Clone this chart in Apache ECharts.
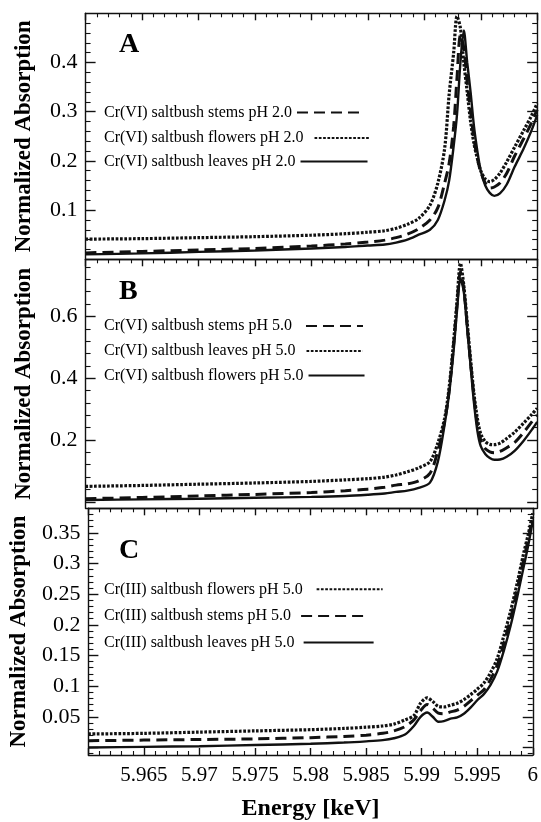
<!DOCTYPE html>
<html><head><meta charset="utf-8">
<script src="https://cdn.jsdelivr.net/npm/echarts@6/dist/echarts.min.js"></script>
<style>html,body{margin:0;padding:0;background:#fff}#c{width:541px;height:822px}</style>
</head><body><div id="c"></div>
<script>
// ---------- DATA ----------
const energyAB = [5.96, 5.965, 5.97, 5.975, 5.98, 5.983, 5.985, 5.9865, 5.9875, 5.9885, 5.9895, 5.9905, 5.9912, 5.9918, 5.9922, 5.9926, 5.9929, 5.9932, 5.9935, 5.9938, 5.9941, 5.9944, 5.9947, 5.995, 5.9954, 5.9958, 5.9962, 5.9967, 5.9973, 5.998, 5.9988, 5.9995, 6.0];
// Panel A (Cr(VI), pH 2.0)
const aStems   = [0.013, 0.016, 0.019, 0.022, 0.027, 0.031, 0.035, 0.039, 0.044, 0.051, 0.062, 0.080, 0.105, 0.155, 0.195, 0.27, 0.37, 0.455, 0.43, 0.36, 0.30, 0.245, 0.205, 0.178, 0.155, 0.145, 0.147, 0.155, 0.175, 0.21, 0.245, 0.278, 0.304];
const aFlowers = [0.041, 0.042, 0.044, 0.046, 0.049, 0.052, 0.055, 0.058, 0.063, 0.071, 0.083, 0.110, 0.155, 0.225, 0.335, 0.42, 0.494, 0.47, 0.40, 0.34, 0.28, 0.235, 0.205, 0.18, 0.163, 0.158, 0.162, 0.175, 0.198, 0.228, 0.262, 0.292, 0.317];
const aLeaves  = [0.010, 0.012, 0.015, 0.018, 0.022, 0.025, 0.028, 0.030, 0.034, 0.040, 0.050, 0.060, 0.080, 0.120, 0.160, 0.23, 0.295, 0.40, 0.465, 0.40, 0.34, 0.27, 0.22, 0.18, 0.15, 0.135, 0.129, 0.134, 0.152, 0.188, 0.225, 0.262, 0.293];
// Panel B (Cr(VI), pH 5.0)
const bStems   = [0.010, 0.014, 0.019, 0.024, 0.030, 0.036, 0.041, 0.047, 0.054, 0.058, 0.068, 0.092, 0.165, 0.26, 0.36, 0.51, 0.64, 0.745, 0.69, 0.57, 0.45, 0.34, 0.25, 0.20, 0.172, 0.162, 0.159, 0.163, 0.175, 0.192, 0.225, 0.258, 0.281];
const bLeaves  = [0.050, 0.053, 0.057, 0.061, 0.066, 0.071, 0.075, 0.080, 0.087, 0.097, 0.110, 0.130, 0.19, 0.27, 0.37, 0.52, 0.65, 0.772, 0.70, 0.58, 0.46, 0.35, 0.27, 0.22, 0.195, 0.186, 0.185, 0.19, 0.205, 0.225, 0.255, 0.282, 0.303];
const bFlowers = [0.006, 0.008, 0.010, 0.013, 0.016, 0.019, 0.023, 0.027, 0.032, 0.036, 0.045, 0.062, 0.13, 0.25, 0.35, 0.49, 0.62, 0.722, 0.68, 0.56, 0.44, 0.32, 0.23, 0.18, 0.155, 0.142, 0.136, 0.137, 0.146, 0.165, 0.198, 0.232, 0.259];
// Panel C (Cr(III), pH 5.0)
const energyC = [5.96, 5.965, 5.97, 5.975, 5.98, 5.983, 5.985, 5.9865, 5.9875, 5.9885, 5.9893, 5.9899, 5.9905, 5.991, 5.9915, 5.992, 5.9926, 5.9932, 5.9938, 5.9944, 5.995, 5.9956, 5.9962, 5.9968, 5.9974, 5.998, 5.9986, 5.9992, 5.9996, 6.0];
const cFlowers = [0.022, 0.023, 0.025, 0.027, 0.029, 0.031, 0.033, 0.035, 0.038, 0.045, 0.052, 0.072, 0.081, 0.075, 0.067, 0.066, 0.069, 0.072, 0.078, 0.086, 0.095, 0.105, 0.122, 0.145, 0.182, 0.222, 0.268, 0.318, 0.348, 0.382];
const cStems   = [0.011, 0.012, 0.013, 0.014, 0.016, 0.018, 0.020, 0.023, 0.027, 0.034, 0.045, 0.060, 0.070, 0.064, 0.056, 0.055, 0.058, 0.061, 0.067, 0.076, 0.085, 0.094, 0.111, 0.134, 0.170, 0.210, 0.258, 0.308, 0.340, 0.376];
const cLeaves  = [0.000, 0.001, 0.002, 0.004, 0.006, 0.008, 0.010, 0.012, 0.015, 0.021, 0.035, 0.050, 0.057, 0.050, 0.042, 0.043, 0.047, 0.049, 0.055, 0.065, 0.077, 0.087, 0.102, 0.124, 0.158, 0.198, 0.245, 0.296, 0.330, 0.370];

// Axis ticks / labels
const xTickLabels = ['5.965', '5.97', '5.975', '5.98', '5.985', '5.99', '5.995', '6'];
const aYLabels = [0.1, 0.2, 0.3, 0.4];
const aYMajor  = [0.1, 0.2, 0.3, 0.4];
const aYMinor  = [0.02, 0.04, 0.06, 0.08, 0.12, 0.14, 0.16, 0.18, 0.22, 0.24, 0.26, 0.28, 0.32, 0.34, 0.36, 0.38, 0.42, 0.44, 0.46, 0.48];
const bYLabels = [0.2, 0.4, 0.6];
const bYMajor  = [0, 0.2, 0.4, 0.6];
const bYMinor  = [0.04, 0.08, 0.12, 0.16, 0.24, 0.28, 0.32, 0.36, 0.44, 0.48, 0.52, 0.56, 0.64, 0.68, 0.72, 0.76];
const cYLabels = [0.05, 0.1, 0.15, 0.2, 0.25, 0.3, 0.35];
const cYMajor  = [0, 0.05, 0.1, 0.15, 0.2, 0.25, 0.3, 0.35];
const cYMinor  = [-0.01, 0.01, 0.02, 0.03, 0.04, 0.06, 0.07, 0.08, 0.09, 0.11, 0.12, 0.13, 0.14, 0.16, 0.17, 0.18, 0.19, 0.21, 0.22, 0.23, 0.24, 0.26, 0.27, 0.28, 0.29, 0.31, 0.32, 0.33, 0.34, 0.36, 0.37, 0.38];

const namesA = ['Cr(VI) saltbush stems pH 2.0', 'Cr(VI) saltbush flowers pH 2.0', 'Cr(VI) saltbush leaves pH 2.0'];
const namesB = ['Cr(VI) saltbush stems pH 5.0', 'Cr(VI) saltbush leaves pH 5.0', 'Cr(VI) saltbush flowers pH 5.0'];
const namesC = ['Cr(III) saltbush flowers pH 5.0', 'Cr(III) saltbush stems pH 5.0', 'Cr(III) saltbush leaves pH 5.0'];
const panelLetters = ['A', 'B', 'C'];

// ---------- LAYOUT / STYLE ----------
const FONT = '"Liberation Serif", "Times New Roman", serif';
const INK = '#111';
const GL = 85.6, GR = 541 - 537.2;
const grids = [
  { top: 13.3, height: 246 },
  { top: 259.3, height: 249 },
  { top: 508.3, height: 251.7 }
];
const yRanges = [[0, 0.5], [-0.021, 0.785], [-0.0123, 0.39]];
const yMajors = [aYMajor, bYMajor, cYMajor];
const yMinors = [aYMinor, bYMinor, cYMinor];
const yLabels = [aYLabels, bYLabels, cYLabels];

const STY = {
  dashed: { width: 3, type: [11, 6] },
  dotted: { width: 3.2, type: [2.7, 1.6] },
  solid:  { width: 2.4, type: 'solid' }
};
const axisLineStyle = { color: INK, width: 1.4 };

function zip(xs, ys) { return xs.map((x, i) => [x, ys[i]]); }

const xAxes = [], yAxes = [];
grids.forEach((g, i) => {
  const last = i === 2;
  xAxes.push({
    gridIndex: i, type: 'value', position: 'bottom', min: 5.96, max: 6.0, interval: 0.005,
    axisLine: { show: true, onZero: false, lineStyle: axisLineStyle },
    axisTick: { show: last, inside: true, length: 7, lineStyle: axisLineStyle },
    minorTick: { show: last, splitNumber: 5, length: 4, lineStyle: { color: INK, width: 1.1 } },
    axisLabel: { show: last, fontFamily: FONT, fontSize: 21, color: '#000', margin: 10,
      formatter: v => { const k = Math.round((v - 5.96) / 0.005); return k >= 1 ? xTickLabels[k - 1] : ''; } },
    splitLine: { show: false },
    name: last ? 'Energy [keV]' : '', nameLocation: 'middle', nameGap: 42,
    nameTextStyle: { fontFamily: FONT, fontWeight: 'bold', fontSize: 24, color: '#000' }
  });
  xAxes.push({
    gridIndex: i, type: 'value', position: 'top', min: 5.96, max: 6.0, interval: 0.005,
    axisLine: { show: true, onZero: false, lineStyle: axisLineStyle },
    axisTick: { show: true, inside: true, length: 7, lineStyle: axisLineStyle },
    minorTick: { show: true, splitNumber: 5, length: 4, lineStyle: { color: INK, width: 1.1 } },
    axisLabel: { show: false }, splitLine: { show: false }
  });
  const [mn, mx] = yRanges[i];
  ['left', 'right'].forEach(pos => {
    yAxes.push({
      gridIndex: i, type: 'value', position: pos, min: mn, max: mx,
      axisLine: { show: true, onZero: false, lineStyle: axisLineStyle },
      axisTick: { show: true, inside: true, length: 10, customValues: yMajors[i], lineStyle: axisLineStyle },
      axisLabel: { show: pos === 'left', customValues: yLabels[i], fontFamily: FONT, fontSize: 22, color: '#000', margin: 8 },
      splitLine: { show: false },
      name: pos === 'left' ? 'Normalized Absorption' : '', nameLocation: 'middle', nameGap: 50,
      nameTextStyle: { fontFamily: FONT, fontWeight: 'bold', fontSize: 23, color: '#000' }
    });
    yAxes.push({
      gridIndex: i, type: 'value', position: pos, min: mn, max: mx,
      axisLine: { show: false, onZero: false },
      axisTick: { show: true, inside: true, length: 5, customValues: yMinors[i], lineStyle: { color: INK, width: 1.1 } },
      axisLabel: { show: false }, splitLine: { show: false }
    });
  });
});

function mk(name, g, xs, ys, style) {
  return {
    type: 'line', name, xAxisIndex: 2 * g, yAxisIndex: 4 * g, data: zip(xs, ys),
    symbol: 'none', showSymbol: false, smooth: 0.3, silent: true,
    lineStyle: Object.assign({ color: INK }, STY[style]), itemStyle: { color: INK }
  };
}
const series = [
  mk(namesA[0], 0, energyAB, aStems, 'dashed'),
  mk(namesA[1], 0, energyAB, aFlowers, 'dotted'),
  mk(namesA[2], 0, energyAB, aLeaves, 'solid'),
  mk(namesB[0], 1, energyAB, bStems, 'dashed'),
  mk(namesB[1], 1, energyAB, bLeaves, 'dotted'),
  mk(namesB[2], 1, energyAB, bFlowers, 'solid'),
  mk(namesC[0], 2, energyC, cFlowers, 'dotted'),
  mk(namesC[1], 2, energyC, cStems, 'dashed'),
  mk(namesC[2], 2, energyC, cLeaves, 'solid')
];

// legend placement: [name, centreY, extra gap, sample width]
const legendSpec = [
  [namesA[0], 112.5, 0, 65], [namesA[1], 138, 6, 55], [namesA[2], 161.5, 0, 67],
  [namesB[0], 325.9, 9, 57], [namesB[1], 351, 6, 56], [namesB[2], 375.5, 0, 56],
  [namesC[0], 589.3, 9, 66], [namesC[1], 615.9, 5, 67], [namesC[2], 642.5, 4, 70]
];
const legends = legendSpec.map(([n, cy, gap, w]) => ({
  data: [n], left: 104, top: cy - 8, padding: 0, itemWidth: w, itemHeight: 14,
  align: 'right', selectedMode: false, itemStyle: { opacity: 0 },
  textStyle: { fontFamily: FONT, fontSize: 16, color: '#000', padding: [0, gap, 0, 0] }
}));

const titles = panelLetters.map((t, i) => ({
  text: t, left: 119, top: [31, 278, 537][i], padding: 0,
  textStyle: { fontFamily: FONT, fontWeight: 'bold', fontSize: 28, color: '#000' }
}));

const chart = echarts.init(document.getElementById('c'), null, { renderer: 'canvas' });
chart.setOption({
  animation: false,
  backgroundColor: '#fff',
  title: titles,
  legend: legends,
  grid: grids.map(g => ({ left: GL, right: GR, top: g.top, height: g.height, containLabel: false })),
  xAxis: xAxes,
  yAxis: yAxes,
  series
});
</script></body></html>
